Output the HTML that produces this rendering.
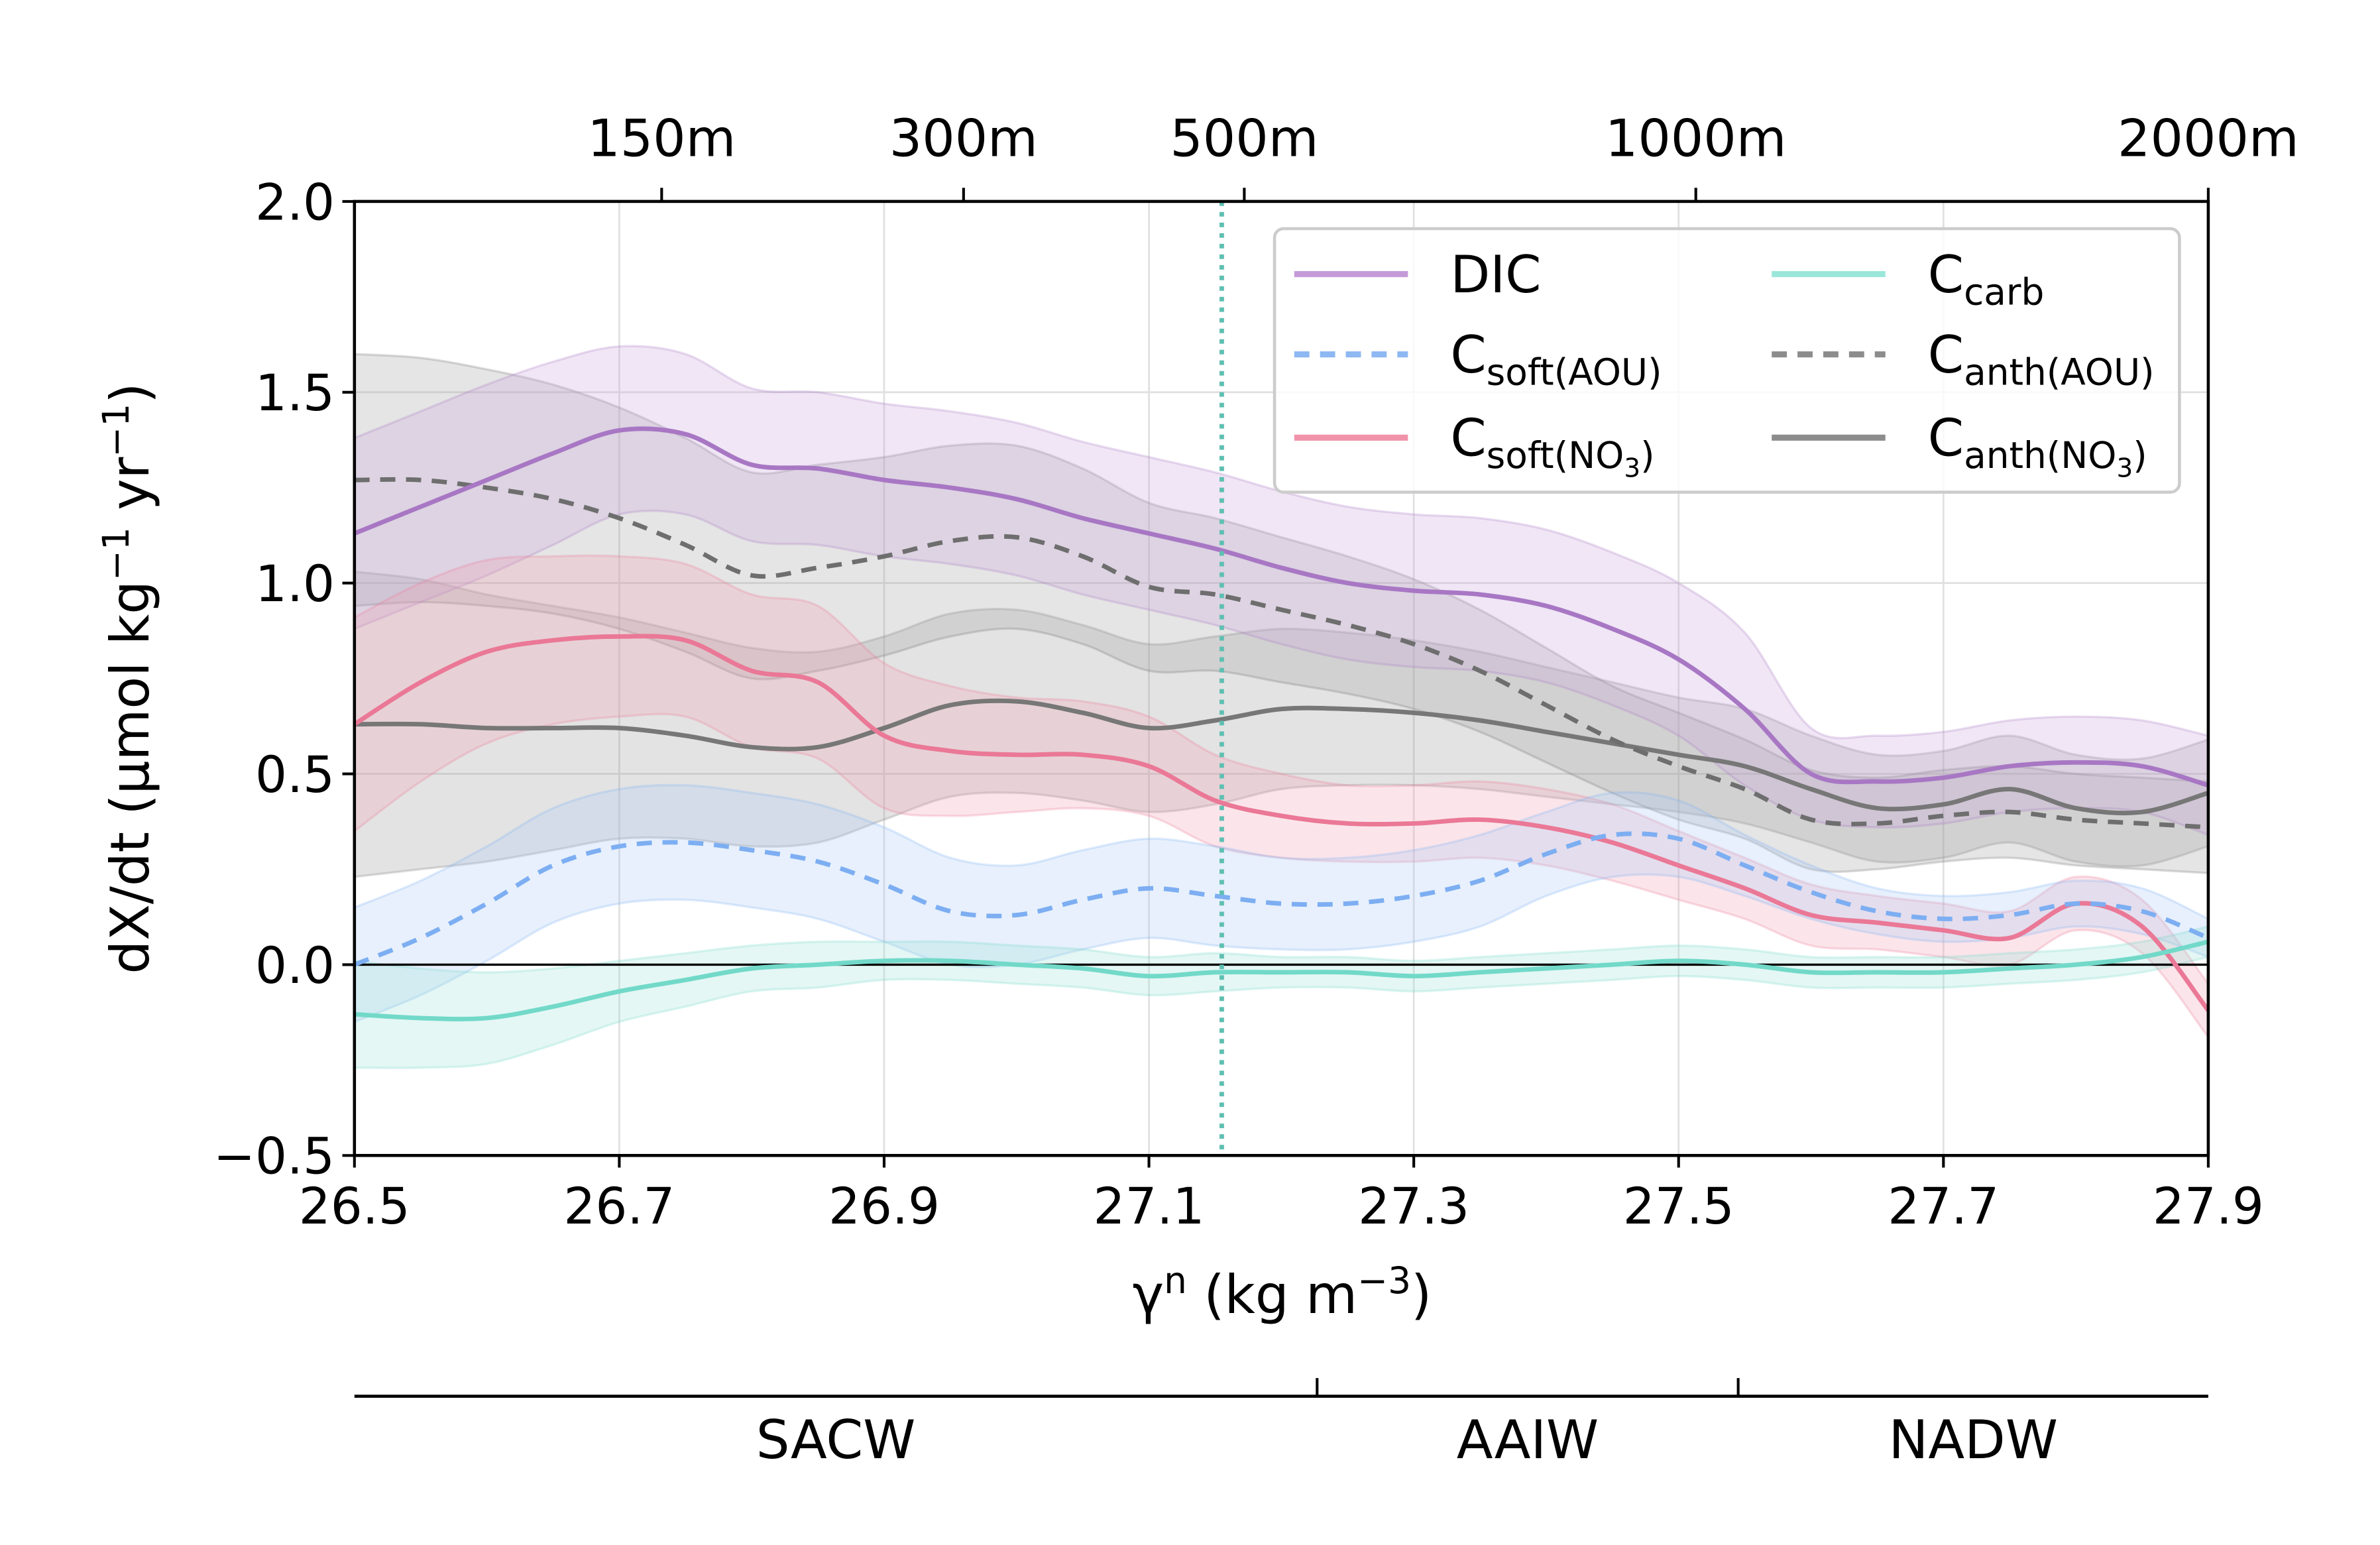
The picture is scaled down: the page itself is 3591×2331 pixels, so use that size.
<!DOCTYPE html>
<html><head><meta charset="utf-8"><style>
html,body{margin:0;padding:0;background:#fff;}
svg{display:block;font-family:"DejaVu Sans","Liberation Sans",sans-serif;}
</style></head><body>
<svg id="chart" width="3591" height="2331" viewBox="0 0 1552 1008" xmlns="http://www.w3.org/2000/svg">
<g transform="translate(0.4,1.0) scale(0.989,0.988)">
<g id="grid"></g>
<g id="bands"></g>
<g id="lines"></g>
<g id="axes"></g>
<g id="legend"></g>
</g>
</svg>
<script>
const gammaVals=[26.5,26.55,26.6,26.65,26.7,26.75,26.8,26.85,26.9,26.95,27.0,27.05,27.1,27.15,27.2,27.25,27.3,27.35,27.4,27.45,27.5,27.55,27.6,27.65,27.7,27.75,27.8,27.85,27.9];
const dicVals=[1.13,1.20,1.27,1.34,1.40,1.39,1.31,1.30,1.27,1.25,1.22,1.17,1.13,1.09,1.04,1.00,0.98,0.97,0.94,0.88,0.80,0.67,0.50,0.48,0.49,0.52,0.53,0.52,0.47];
const dicErr=[0.25,0.25,0.25,0.24,0.22,0.21,0.20,0.20,0.20,0.20,0.20,0.20,0.20,0.20,0.20,0.20,0.20,0.20,0.20,0.20,0.20,0.20,0.12,0.12,0.12,0.12,0.12,0.12,0.13];
const csoftAouVals=[0.00,0.07,0.16,0.26,0.31,0.32,0.30,0.27,0.21,0.14,0.13,0.17,0.20,0.18,0.16,0.16,0.18,0.22,0.29,0.34,0.33,0.26,0.19,0.14,0.12,0.13,0.16,0.14,0.07];
const csoftAouErr=[0.15,0.15,0.15,0.15,0.15,0.15,0.15,0.15,0.15,0.14,0.13,0.13,0.13,0.13,0.12,0.12,0.12,0.12,0.11,0.11,0.10,0.08,0.07,0.06,0.06,0.06,0.06,0.06,0.05];
const csoftNo3Vals=[0.63,0.74,0.82,0.85,0.86,0.85,0.77,0.74,0.60,0.56,0.55,0.55,0.52,0.43,0.39,0.37,0.37,0.38,0.36,0.32,0.26,0.20,0.13,0.11,0.09,0.07,0.16,0.10,-0.12];
const csoftNo3Err=[0.28,0.26,0.24,0.22,0.21,0.20,0.20,0.20,0.19,0.17,0.15,0.14,0.13,0.12,0.11,0.10,0.10,0.10,0.10,0.10,0.09,0.08,0.08,0.07,0.07,0.07,0.07,0.07,0.07];
const ccarbVals=[-0.13,-0.14,-0.14,-0.11,-0.07,-0.04,-0.01,0.00,0.01,0.01,0.00,-0.01,-0.03,-0.02,-0.02,-0.02,-0.03,-0.02,-0.01,0.00,0.01,0.00,-0.02,-0.02,-0.02,-0.01,0.00,0.02,0.06];
const ccarbErr=[0.14,0.13,0.12,0.10,0.08,0.07,0.06,0.06,0.05,0.05,0.05,0.05,0.05,0.05,0.04,0.04,0.04,0.04,0.04,0.04,0.04,0.04,0.04,0.04,0.04,0.04,0.04,0.04,0.04];
const canthAouVals=[1.27,1.27,1.25,1.22,1.17,1.10,1.02,1.04,1.07,1.11,1.12,1.07,0.99,0.97,0.93,0.89,0.84,0.77,0.68,0.59,0.52,0.46,0.38,0.37,0.39,0.40,0.38,0.37,0.36];
const canthAouErr=[0.33,0.32,0.31,0.30,0.29,0.28,0.27,0.27,0.26,0.25,0.24,0.23,0.22,0.20,0.19,0.18,0.17,0.16,0.15,0.14,0.14,0.13,0.13,0.12,0.12,0.12,0.12,0.12,0.12];
const canthNo3Vals=[0.63,0.63,0.62,0.62,0.62,0.60,0.57,0.57,0.62,0.68,0.69,0.66,0.62,0.64,0.67,0.67,0.66,0.64,0.61,0.58,0.55,0.52,0.46,0.41,0.42,0.46,0.41,0.40,0.45];
const canthNo3Err=[0.40,0.38,0.35,0.32,0.29,0.27,0.26,0.25,0.24,0.24,0.24,0.23,0.22,0.22,0.21,0.20,0.19,0.18,0.17,0.16,0.15,0.15,0.14,0.14,0.14,0.14,0.14,0.14,0.14];
const xTickLabels=["26.5","26.7","26.9","27.1","27.3","27.5","27.7","27.9"];
const yTickLabels=["−0.5","0.0","0.5","1.0","1.5","2.0"];
const depthLabels=["150m","300m","500m","1000m","2000m"];
const depthGamma=[26.732,26.96,27.172,27.513,27.9];
const waterMassNames=["SACW","AAIW","NADW"];
const waterMassBounds=[26.5,27.227,27.545,27.9];
const refLineGamma=27.155;

const NS="http://www.w3.org/2000/svg";
const L=233,R=1456,T=132,B=762;
const xs=g=>L+(g-26.5)/1.4*(R-L);
const ys=v=>B-(v+0.5)/2.5*(B-T);
function el(tag,attrs,parent,text){const e=document.createElementNS(NS,tag);for(const k in attrs)e.setAttribute(k,attrs[k]);if(text!==undefined)e.textContent=text;parent.appendChild(e);return e;}
function smooth(pts){let d="M"+pts[0][0].toFixed(2)+","+pts[0][1].toFixed(2);for(let i=0;i<pts.length-1;i++){const p0=pts[Math.max(0,i-1)],p1=pts[i],p2=pts[i+1],p3=pts[Math.min(pts.length-1,i+2)];const c1=[p1[0]+(p2[0]-p0[0])/6,p1[1]+(p2[1]-p0[1])/6],c2=[p2[0]-(p3[0]-p1[0])/6,p2[1]-(p3[1]-p1[1])/6];d+="C"+c1.map(v=>v.toFixed(2))+" "+c2.map(v=>v.toFixed(2))+" "+p2.map(v=>v.toFixed(2));}return d;}
function smoothCont(pts){return smooth(pts).replace(/^M/,"L");}

const grid=document.getElementById('grid'),bands=document.getElementById('bands'),lines=document.getElementById('lines'),axes=document.getElementById('axes'),legend=document.getElementById('legend');
xTickLabels.forEach(t=>{const x=xs(parseFloat(t));const g=el('line',{x1:x,x2:x,y1:T,y2:B,stroke:'#e0e0e0','stroke-width':1.2},grid);});
yTickLabels.forEach(t=>{const y=ys(parseFloat(t.replace('−','-')));const g=el('line',{x1:L,x2:R,y1:y,y2:y,stroke:'#e0e0e0','stroke-width':1.2},grid);});

const series=[
 {name:'canth-no3',vals:canthNo3Vals,err:canthNo3Err,color:'#777777',fill:'#9a9a9a',dash:null},
 {name:'canth-aou',vals:canthAouVals,err:canthAouErr,color:'#6e6e6e',fill:'#a0a0a0',dash:'10,7'},
 {name:'dic',vals:dicVals,err:dicErr,color:'#a877c4',fill:'#c9a4dc',dash:null},
 {name:'csoft-no3',vals:csoftNo3Vals,err:csoftNo3Err,color:'#ea7896',fill:'#f2a0b4',dash:null},
 {name:'csoft-aou',vals:csoftAouVals,err:csoftAouErr,color:'#7daef2',fill:'#a9c8f4',dash:'10,7'},
 {name:'ccarb',vals:ccarbVals,err:ccarbErr,color:'#72d9c9',fill:'#9fe3d8',dash:null}
];
series.forEach(s=>{
 const up=gammaVals.map((g,i)=>[xs(g),ys(s.vals[i]+s.err[i])]);
 const lo=gammaVals.map((g,i)=>[xs(g),ys(s.vals[i]-s.err[i])]).reverse();
 const b=el('path',{d:smooth(up)+smoothCont(lo)+"Z",fill:s.fill,'fill-opacity':0.28,stroke:s.color,'stroke-opacity':0.25,'stroke-width':1.5},bands);
 
 
});
const zl=el('line',{x1:L,x2:R,y1:ys(0),y2:ys(0),stroke:'#000','stroke-width':1.5},lines);


series.forEach(s=>{
 const pts=gammaVals.map((g,i)=>[xs(g),ys(s.vals[i])]);
 const a={d:smooth(pts),fill:'none',stroke:s.color,'stroke-width':3};
 if(s.dash)a['stroke-dasharray']=s.dash;
 const p=el('path',a,lines);
 
 
});
const rl=el('line',{x1:xs(refLineGamma),x2:xs(refLineGamma),y1:T,y2:B,stroke:'#5fbfb2','stroke-width':3,'stroke-dasharray':'3,4'},lines);



const fr=el('rect',{x:L,y:T,width:R-L,height:B-T,fill:'none',stroke:'#000','stroke-width':2},axes);


xTickLabels.forEach(t=>{const x=xs(parseFloat(t));el('line',{x1:x,x2:x,y1:B,y2:B+8,stroke:'#000','stroke-width':1.8},axes);const tx=el('text',{x:x,y:B+45,'font-size':33,'text-anchor':'middle',fill:'#000'},axes,t);});
yTickLabels.forEach(t=>{const y=ys(parseFloat(t.replace('−','-')));el('line',{x1:L-8,x2:L,y1:y,y2:y,stroke:'#000','stroke-width':1.8},axes);const tx=el('text',{x:L-13,y:y+12,'font-size':33,'text-anchor':'end',fill:'#000'},axes,t);});
depthLabels.forEach((t,i)=>{const x=xs(depthGamma[i]);el('line',{x1:x,x2:x,y1:T-9,y2:T,stroke:'#000','stroke-width':1.8},axes);const tx=el('text',{x:x,y:T-30,'font-size':34,'text-anchor':'middle',fill:'#000'},axes,t);});
const xt=el('text',{x:845,y:866,'font-size':35,'text-anchor':'middle',fill:'#000'},axes);


xt.innerHTML='γ<tspan font-size="24" dy="-13">n</tspan><tspan dy="13"> (kg m</tspan><tspan font-size="24" dy="-13">−3</tspan><tspan dy="13">)</tspan>';
const yt=el('text',{x:0,y:0,'font-size':35,'text-anchor':'middle',fill:'#000',transform:'translate(97,447) rotate(-90)'},axes);


yt.innerHTML='dX/dt (µmol kg<tspan font-size="24" dy="-13">−1</tspan><tspan dy="13"> yr</tspan><tspan font-size="24" dy="-13">−1</tspan><tspan dy="13">)</tspan>';
const wy=921;
el('line',{x1:L,x2:R,y1:wy,y2:wy,stroke:'#000','stroke-width':2},axes);
[waterMassBounds[1],waterMassBounds[2]].forEach(g=>{el('line',{x1:xs(g),x2:xs(g),y1:wy-12,y2:wy,stroke:'#000','stroke-width':1.8},axes);});
waterMassNames.forEach((n,i)=>{const x=(xs(waterMassBounds[i])+xs(waterMassBounds[i+1]))/2;const tx=el('text',{x:x,y:962,'font-size':35,'text-anchor':'middle',fill:'#000'},axes,n);});

const lb=el('rect',{x:840,y:150,width:597,height:174,rx:6,fill:'#fff','fill-opacity':0.8,stroke:'#cccccc','stroke-width':2},legend);


const entries=[
 {c:'#c49bd8',d:null,x:853,y:180,html:'DIC'},
 {c:'#8db8f2',d:'10,7',x:853,y:233,html:'C<tspan font-size="24" dy="8">soft(AOU)</tspan>'},
 {c:'#f092aa',d:null,x:853,y:288,html:'C<tspan font-size="24" dy="8">soft(NO</tspan><tspan font-size="17" dy="6">3</tspan><tspan font-size="24" dy="-6">)</tspan>'},
 {c:'#9be6da',d:null,x:1168,y:180,html:'C<tspan font-size="24" dy="8">carb</tspan>'},
 {c:'#8c8c8c',d:'10,7',x:1168,y:233,html:'C<tspan font-size="24" dy="8">anth(AOU)</tspan>'},
 {c:'#8c8c8c',d:null,x:1168,y:288,html:'C<tspan font-size="24" dy="8">anth(NO</tspan><tspan font-size="17" dy="6">3</tspan><tspan font-size="24" dy="-6">)</tspan>'}
];
entries.forEach(e=>{
 const a={x1:e.x,x2:e.x+75,y1:e.y,y2:e.y,stroke:e.c,'stroke-width':4};
 if(e.d)a['stroke-dasharray']=e.d;
 const ln=el('line',a,legend);
 
 
 const t=el('text',{x:e.x+103,y:e.y+12,'font-size':34,fill:'#000'},legend);
 
 
 t.innerHTML=e.html;
});
</script>
</body></html>
